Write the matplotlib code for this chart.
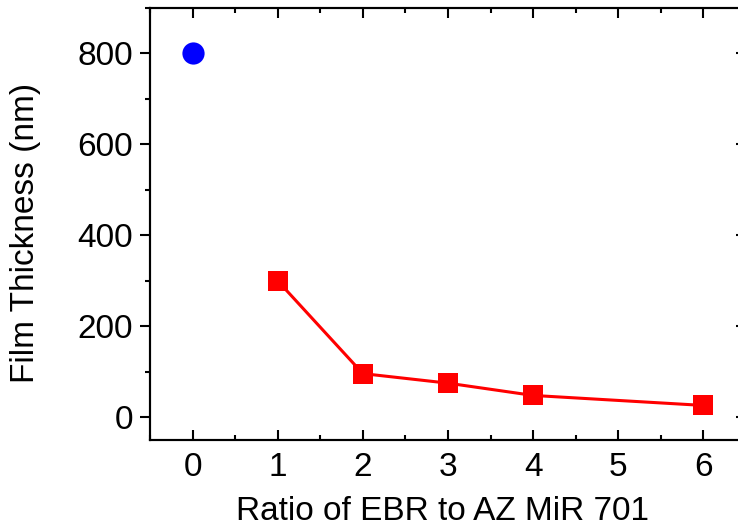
import matplotlib
matplotlib.use("Agg")
import matplotlib.pyplot as plt
from matplotlib.ticker import MultipleLocator

plt.rcParams['font.family'] = ['Liberation Sans', 'DejaVu Sans']

ref_x = [0]
ref_y = [800]
ratio_x = [1, 2, 3, 4, 6]
thickness_y = [300, 96, 75, 48, 26]
xticks = [0, 1, 2, 3, 4, 5, 6]
yticks = [0, 200, 400, 600, 800]

fig = plt.figure(figsize=(7.38, 5.30), dpi=100)
ax = fig.add_axes([150/738, 90/530, 596/738, 432/530])

ax.plot(ref_x, ref_y, 'o', color='#0000ff', markersize=16, markeredgewidth=0, clip_on=False)
ax.plot(ratio_x, thickness_y, '-s', color='#ff0000', linewidth=2.2, markersize=14, markeredgewidth=0, clip_on=False)

ax.set_xlim(-0.5, 6.5)
ax.set_ylim(-50, 900)
ax.set_xticks(xticks)
ax.set_yticks(yticks)
ax.xaxis.set_minor_locator(MultipleLocator(0.5))
ax.yaxis.set_minor_locator(MultipleLocator(100))

for s in ax.spines.values():
    s.set_linewidth(1.5)

ax.tick_params(axis='x', which='both', direction='in', top=True, bottom=True, width=1.5, labelsize=24, pad=9)
ax.tick_params(axis='x', which='major', length=7)
ax.tick_params(axis='x', which='minor', length=3.5)
ax.tick_params(axis='y', which='both', direction='out', left=True, right=False, width=1.5, labelsize=24, pad=5)
ax.tick_params(axis='y', which='major', length=7)
ax.tick_params(axis='y', which='minor', length=3.5)

# right side inward ticks
axr = ax.twinx()
axr.set_ylim(ax.get_ylim())
axr.set_yticks(yticks)
axr.yaxis.set_minor_locator(MultipleLocator(100))
axr.tick_params(axis='y', which='both', direction='in', width=1.5, labelright=False)
axr.tick_params(axis='y', which='major', length=7)
axr.tick_params(axis='y', which='minor', length=3.5)
for s in axr.spines.values():
    s.set_linewidth(1.5)

ax.set_xlabel('Ratio of EBR to AZ MiR 701', fontsize=24)
ax.set_ylabel('Film Thickness (nm)', fontsize=24)
ax.xaxis.set_label_coords(0.491, -0.13)
ax.yaxis.set_label_coords(-0.183, 0.48)

fig.savefig('out.png', dpi=100)
